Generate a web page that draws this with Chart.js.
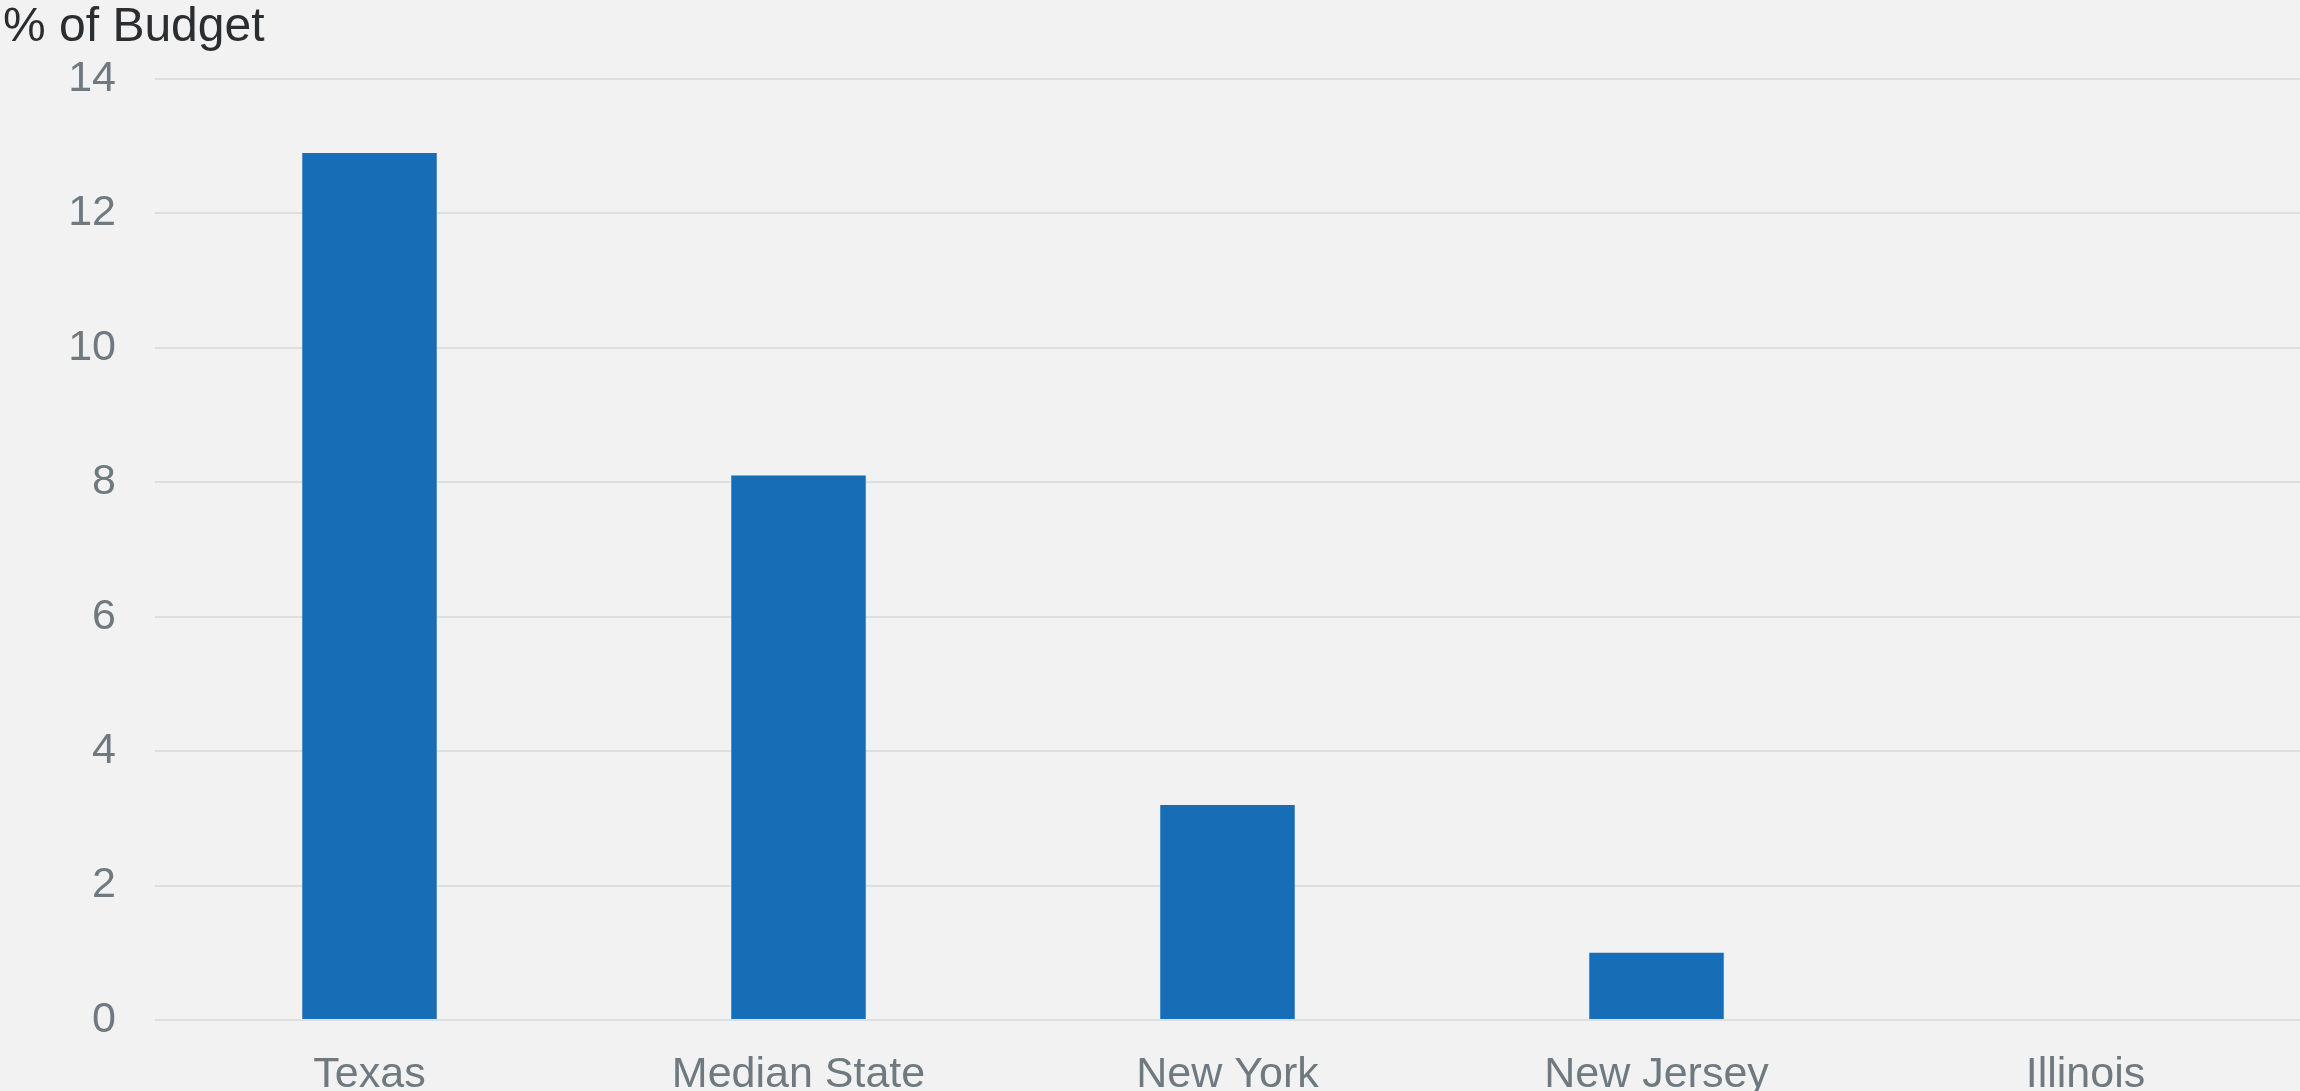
<!DOCTYPE html>
<html>
<head>
<meta charset="utf-8">
<script src="https://cdn.jsdelivr.net/npm/chart.js@4/dist/chart.umd.min.js"></script>
<style>
    body { margin: 0; background: #f2f2f2; }
    #chart { display: block; }
</style>
</head>
<body>
<canvas id="chart" width="2300" height="1091"></canvas>
<script>
// ===== Data =====
const states = ['Texas', 'Median State', 'New York', 'New Jersey', 'Illinois'];
const budgetShare = [12.9, 8.1, 3.2, 1.0, 0];
const yTicks = [0, 2, 4, 6, 8, 10, 12, 14];
const axisTitle = '% of Budget';

// ===== Axis title drawn above the plot =====
const titlePlugin = {
    id: 'axisTitle',
    afterDraw(chart) {
        const ctx = chart.ctx;
        ctx.save();
        ctx.font = '48px "Liberation Sans", Arial, sans-serif';
        ctx.fillStyle = '#2b2e31';
        ctx.textAlign = 'left';
        ctx.textBaseline = 'alphabetic';
        ctx.fillText(axisTitle, 3, 41);
        ctx.restore();
    }
};

// Background fill behind the chart
const bgPlugin = {
    id: 'bg',
    beforeDraw(chart) {
        const ctx = chart.ctx;
        ctx.save();
        ctx.fillStyle = '#f2f2f2';
        ctx.fillRect(0, 0, chart.width, chart.height);
        ctx.restore();
    }
};

const ctx = document.getElementById('chart').getContext('2d');
new Chart(ctx, {
    type: 'bar',
    data: {
        labels: states,
        datasets: [{
            data: budgetShare,
            backgroundColor: '#176db6',
            borderWidth: 0,
            categoryPercentage: 1,
            barPercentage: 0.3135
        }]
    },
    options: {
        responsive: false,
        animation: false,
        layout: { padding: { top: 79, left: 0, right: 0, bottom: 0 } },
        plugins: {
            legend: { display: false },
            tooltip: { enabled: false }
        },
        scales: {
            x: {
                grid: { display: false },
                border: { display: false },
                ticks: {
                    color: '#6e7a80',
                    padding: 21,
                    font: { family: '"Liberation Sans", Arial, sans-serif', size: 43 }
                },
                afterFit(scale) { scale.height = 71; }
            },
            y: {
                min: 0,
                max: 14,
                afterBuildTicks(scale) {
                    scale.ticks = yTicks.map(v => ({ value: v }));
                },
                grid: {
                    color: '#dcdfe0',
                    lineWidth: 2,
                    drawTicks: false
                },
                border: { display: false },
                ticks: {
                    color: '#6e7a80',
                    padding: 39,
                    font: { family: '"Liberation Sans", Arial, sans-serif', size: 43 }
                },
                afterFit(scale) { scale.width = 155; }
            }
        }
    },
    plugins: [bgPlugin, titlePlugin]
});
</script>
</body>
</html>
